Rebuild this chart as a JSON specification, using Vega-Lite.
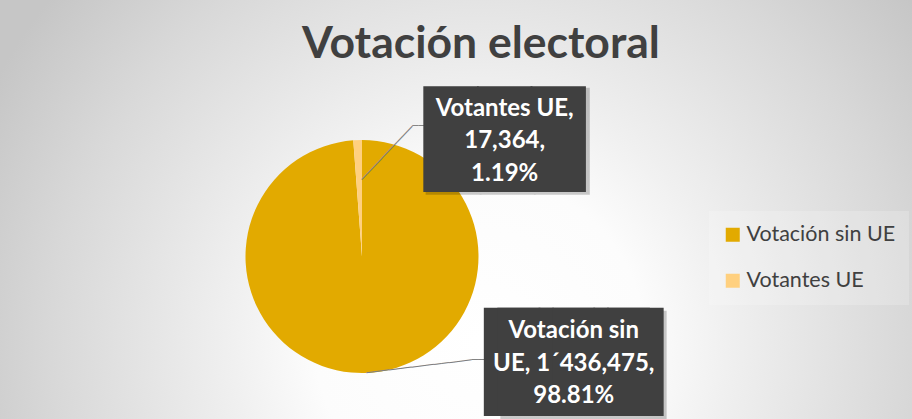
{
  "$schema": "https://vega.github.io/schema/vega-lite/v6.json",
  "width": 1100,
  "height": 325,
  "autosize": {"type": "none"},
  "padding": {"left": -188, "top": 94, "right": 0, "bottom": 0},
  "background": "#ffffff",
  "config": {"view": {"stroke": null}},
  "title": {
    "text": "Votación electoral",
    "font": "Lato",
    "fontSize": 44.5,
    "fontWeight": "bold",
    "color": "#404040",
    "anchor": "middle",
    "frame": "group",
    "dx": 119,
    "offset": -102,
    "baseline": "alphabetic",
    "zindex": 2
  },
  "data": {
    "values": [
      {"categoria": "Votación sin UE", "votos": 1436475, "etiqueta": ["Votación sin", "UE, 1´436,475,", "98.81%"]},
      {"categoria": "Votantes UE", "votos": 17364, "etiqueta": ["Votantes UE,", "17,364,", "1.19%"]}
    ]
  },
  "layer": [
    {
      "mark": {
        "type": "rect",
        "yOffset": -94,
        "fill": {
          "gradient": "radial",
          "x1": 0.607, "y1": 0.62, "r1": 0,
          "x2": 0.607, "y2": 0.62, "r2": 0.5,
          "stops": [
            {"offset": 0, "color": "#ffffff"},
            {"offset": 0.3, "color": "#fcfcfc"},
            {"offset": 0.45, "color": "#f0f0f0"},
            {"offset": 0.78, "color": "#d8d8d8"},
            {"offset": 1, "color": "#c6c6c6"}
          ]
        }
      },
      "encoding": {}
    },
    {
      "mark": {"type": "arc", "radius": 116.5},
      "encoding": {
        "theta": {"field": "votos", "type": "quantitative", "stack": true},
        "order": {"field": "votos", "type": "quantitative", "sort": "descending"},
        "color": {
          "field": "categoria",
          "type": "nominal",
          "scale": {"domain": ["Votación sin UE", "Votantes UE"], "range": ["#E2AA00", "#FFD07F"]},
          "legend": {
            "orient": "none",
            "legendX": 897,
            "legendY": 117,
            "padding": 13,
            "fillColor": "rgba(255,255,255,0.2)",
            "title": null,
            "symbolType": "square",
            "symbolSize": 196,
            "symbolStrokeWidth": 0,
            "labelFont": "Lato",
            "labelFontSize": 21.5,
            "labelColor": "#404040",
            "rowPadding": 23,
            "labelOffset": 3
          }
        }
      }
    },
    {
      "mark": {"type": "text", "font": "DejaVu Sans Mono", "fontSize": 12.2, "radius": 106.5, "thetaOffset": 0.2761, "angle": 313.4, "color": "#7f7f7f"},
      "encoding": {
        "theta": {"field": "votos", "type": "quantitative", "stack": true},
        "order": {"field": "votos", "type": "quantitative", "sort": "descending"},
        "detail": {"field": "categoria", "type": "nominal"},
        "text": {"condition": {"test": "datum.categoria === 'Votantes UE'", "value": "──────────"}, "value": ""}
      }
    },
    {
      "mark": {"type": "text", "font": "DejaVu Sans Mono", "fontSize": 10.2, "radius": 141.9, "thetaOffset": 0.4468, "color": "#7f7f7f"},
      "encoding": {
        "theta": {"field": "votos", "type": "quantitative", "stack": true},
        "order": {"field": "votos", "type": "quantitative", "sort": "descending"},
        "detail": {"field": "categoria", "type": "nominal"},
        "text": {"condition": {"test": "datum.categoria === 'Votantes UE'", "value": "──"}, "value": ""}
      }
    },
    {
      "mark": {"type": "text", "font": "DejaVu Sans Mono", "fontSize": 12.55, "radius": 123.9, "thetaOffset": -0.4397, "angle": 353.1, "color": "#7f7f7f"},
      "encoding": {
        "theta": {"field": "votos", "type": "quantitative", "stack": true},
        "order": {"field": "votos", "type": "quantitative", "sort": "descending"},
        "detail": {"field": "categoria", "type": "nominal"},
        "text": {"condition": {"test": "datum.categoria === 'Votación sin UE'", "value": "──────────────"}, "value": ""}
      }
    },
    {
      "mark": {"type": "text", "font": "DejaVu Sans Mono", "fontSize": 11, "radius": 155.7, "thetaOffset": -0.8035, "color": "#7f7f7f"},
      "encoding": {
        "theta": {"field": "votos", "type": "quantitative", "stack": true},
        "order": {"field": "votos", "type": "quantitative", "sort": "descending"},
        "detail": {"field": "categoria", "type": "nominal"},
        "text": {"condition": {"test": "datum.categoria === 'Votación sin UE'", "value": "──"}, "value": ""}
      }
    },
    {
      "mark": {"type": "text", "font": "DejaVu Sans Mono", "fontSize": 90, "radius": 185.6, "thetaOffset": 0.9144, "color": "#000000", "opacity": 0.2, "dx": 3, "dy": 7},
      "encoding": {
        "theta": {"field": "votos", "type": "quantitative", "stack": true},
        "order": {"field": "votos", "type": "quantitative", "sort": "descending"},
        "detail": {"field": "categoria", "type": "nominal"},
        "text": {"condition": {"test": "datum.categoria === 'Votantes UE'", "value": "███"}, "value": ""}
      }
    },
    {
      "mark": {"type": "text", "font": "DejaVu Sans Mono", "fontSize": 91, "radius": 236.7, "thetaOffset": -1.07, "color": "#000000", "opacity": 0.2, "dx": 9.8, "dy": 7},
      "encoding": {
        "theta": {"field": "votos", "type": "quantitative", "stack": true},
        "order": {"field": "votos", "type": "quantitative", "sort": "descending"},
        "detail": {"field": "categoria", "type": "nominal"},
        "text": {"condition": {"test": "datum.categoria === 'Votación sin UE'", "value": "███"}, "value": ""}
      }
    },
    {
      "mark": {"type": "text", "font": "DejaVu Sans Mono", "fontSize": 89, "radius": 185.6, "thetaOffset": 0.9144, "color": "#404040", "dy": 5},
      "encoding": {
        "theta": {"field": "votos", "type": "quantitative", "stack": true},
        "order": {"field": "votos", "type": "quantitative", "sort": "descending"},
        "detail": {"field": "categoria", "type": "nominal"},
        "text": {"condition": {"test": "datum.categoria === 'Votantes UE'", "value": "███"}, "value": ""}
      }
    },
    {
      "mark": {"type": "text", "font": "DejaVu Sans Mono", "fontSize": 91, "radius": 236.7, "thetaOffset": -1.07, "color": "#404040", "dx": -6.8, "dy": 4},
      "encoding": {
        "theta": {"field": "votos", "type": "quantitative", "stack": true},
        "order": {"field": "votos", "type": "quantitative", "sort": "descending"},
        "detail": {"field": "categoria", "type": "nominal"},
        "text": {"condition": {"test": "datum.categoria === 'Votación sin UE'", "value": "███"}, "value": ""}
      }
    },
    {
      "mark": {"type": "text", "font": "DejaVu Sans Mono", "fontSize": 91, "radius": 236.7, "thetaOffset": -1.07, "color": "#404040", "dx": 6.8, "dy": 4},
      "encoding": {
        "theta": {"field": "votos", "type": "quantitative", "stack": true},
        "order": {"field": "votos", "type": "quantitative", "sort": "descending"},
        "detail": {"field": "categoria", "type": "nominal"},
        "text": {"condition": {"test": "datum.categoria === 'Votación sin UE'", "value": "███"}, "value": ""}
      }
    },
    {
      "mark": {"type": "text", "font": "Lato", "fontSize": 24, "fontWeight": "bold", "lineHeight": 32.5, "radius": 185.6, "thetaOffset": 0.9144, "color": "#ffffff", "dy": -29},
      "encoding": {
        "theta": {"field": "votos", "type": "quantitative", "stack": true},
        "order": {"field": "votos", "type": "quantitative", "sort": "descending"},
        "detail": {"field": "categoria", "type": "nominal"},
        "text": {"condition": {"test": "datum.categoria === 'Votantes UE'", "field": "etiqueta", "type": "nominal"}, "value": ""}
      }
    },
    {
      "mark": {"type": "text", "font": "Lato", "fontSize": 24, "fontWeight": "bold", "lineHeight": 32.5, "radius": 236.7, "thetaOffset": -1.07, "color": "#ffffff", "dy": -31},
      "encoding": {
        "theta": {"field": "votos", "type": "quantitative", "stack": true},
        "order": {"field": "votos", "type": "quantitative", "sort": "descending"},
        "detail": {"field": "categoria", "type": "nominal"},
        "text": {"condition": {"test": "datum.categoria === 'Votación sin UE'", "field": "etiqueta", "type": "nominal"}, "value": ""}
      }
    }
  ]
}
